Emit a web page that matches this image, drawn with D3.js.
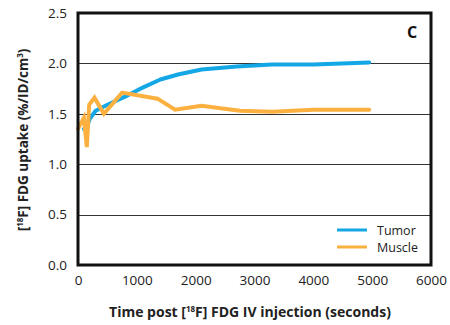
<!DOCTYPE html>
<html><head><meta charset="utf-8">
<script src="https://cdn.jsdelivr.net/npm/d3@7"></script>
<style>
body{margin:0;background:#fff;}
text{font-family:"Open Sans",sans-serif;}
</style></head>
<body><svg id="c" width="450" height="325"></svg>
<script>
const tumorTime  = [100, 150, 200, 300, 500, 800, 1100, 1400, 1700, 2100, 2700, 3300, 4000, 4950];
const tumorValue = [1.35, 1.37, 1.45, 1.53, 1.59, 1.67, 1.76, 1.84, 1.89, 1.94, 1.97, 1.99, 1.99, 2.01];
const muscleTime  = [0, 100, 150, 190, 280, 440, 750, 1350, 1650, 2100, 2750, 3300, 4000, 4950];
const muscleValue = [1.35, 1.46, 1.17, 1.59, 1.66, 1.50, 1.71, 1.65, 1.54, 1.58, 1.53, 1.52, 1.54, 1.54];
const xTicks = [0, 1000, 2000, 3000, 4000, 5000, 6000];
const yTicks = [0, 0.5, 1.0, 1.5, 2.0, 2.5];
const seriesNames = ["Tumor", "Muscle"];
const colors = ["#14a7e6", "#fbb040"];

const svg = d3.select("#c");
const x = d3.scaleLinear().domain([0, 6000]).range([78, 431]);
const y = d3.scaleLinear().domain([0, 2.5]).range([265, 13]);

// gridlines
svg.append("g").selectAll("line").data(yTicks.filter(d => d > 0 && d < 2.5)).join("line")
  .attr("x1", x(0)).attr("x2", x(6000))
  .attr("y1", d => Math.round(y(d)) + 0.5).attr("y2", d => Math.round(y(d)) + 0.5)
  .attr("stroke", "#333").attr("stroke-width", 1);

// tick labels
const yAxis = svg.append("g").attr("transform", "translate(78,0)")
  .call(d3.axisLeft(y).tickValues(yTicks).tickFormat(d3.format(".1f")).tickSize(0).tickPadding(11));
const xAxis = svg.append("g").attr("transform", "translate(0,265)")
  .call(d3.axisBottom(x).tickValues(xTicks).tickFormat(d3.format("d")).tickSize(0).tickPadding(10));
[yAxis, xAxis].forEach(a => {
  a.select(".domain").remove();
  a.selectAll("text").attr("font-size", 13.5).attr("fill", "#222").style("font-family", '"Open Sans",sans-serif');
});

const line = d3.line().x(d => x(d[0])).y(d => y(d[1]));
const tumor = tumorTime.map((t, i) => [t, tumorValue[i]]);
const muscle = muscleTime.map((t, i) => [t, muscleValue[i]]);

svg.append("path").datum(tumor).attr("d", line).attr("fill", "none")
  .attr("stroke", colors[0]).attr("stroke-width", 4).attr("stroke-linejoin", "round").attr("stroke-linecap", "round");
svg.append("path").datum(muscle).attr("d", line).attr("fill", "none")
  .attr("stroke", colors[1]).attr("stroke-width", 4).attr("stroke-linejoin", "miter").attr("stroke-linecap", "round");

// frame
svg.append("rect").attr("x", x(0)).attr("y", y(2.5)).attr("width", x(6000) - x(0)).attr("height", y(0) - y(2.5))
  .attr("fill", "none").attr("stroke", "#111").attr("stroke-width", 3);

// panel letter
svg.append("text").attr("x", 412).attr("y", 38).attr("text-anchor", "middle")
  .attr("font-size", 16).attr("font-weight", "bold").attr("fill", "#111").text("C");

// legend
const leg = svg.append("g");
seriesNames.forEach((n, i) => {
  const yy = 230 + i * 17;
  leg.append("line").attr("x1", 337).attr("x2", 367).attr("y1", yy).attr("y2", yy)
    .attr("stroke", colors[i]).attr("stroke-width", 3);
  leg.append("text").attr("x", 377).attr("y", yy + 4.5).attr("font-size", 12.5).attr("fill", "#222").text(n);
});

// axis titles
const xt = svg.append("text").attr("x", 250).attr("y", 317).attr("text-anchor", "middle")
  .attr("font-size", 14).attr("font-weight", "bold").attr("fill", "#222");
xt.append("tspan").text("Time post [");
xt.append("tspan").attr("font-size", 8).attr("dy", -5).text("18");
xt.append("tspan").attr("dy", 5).text("F] FDG IV injection (seconds)");

const yt = svg.append("text").attr("transform", "translate(28,140) rotate(-90)").attr("text-anchor", "middle")
  .attr("font-size", 13.5).attr("font-weight", "bold").attr("fill", "#222");
yt.append("tspan").text("[");
yt.append("tspan").attr("font-size", 8).attr("dy", -5).text("18");
yt.append("tspan").attr("dy", 5).text("F] FDG uptake (%/ID/cm");
yt.append("tspan").attr("font-size", 8).attr("dy", -5).text("3");
yt.append("tspan").attr("dy", 5).text(")");
</script></body></html>
